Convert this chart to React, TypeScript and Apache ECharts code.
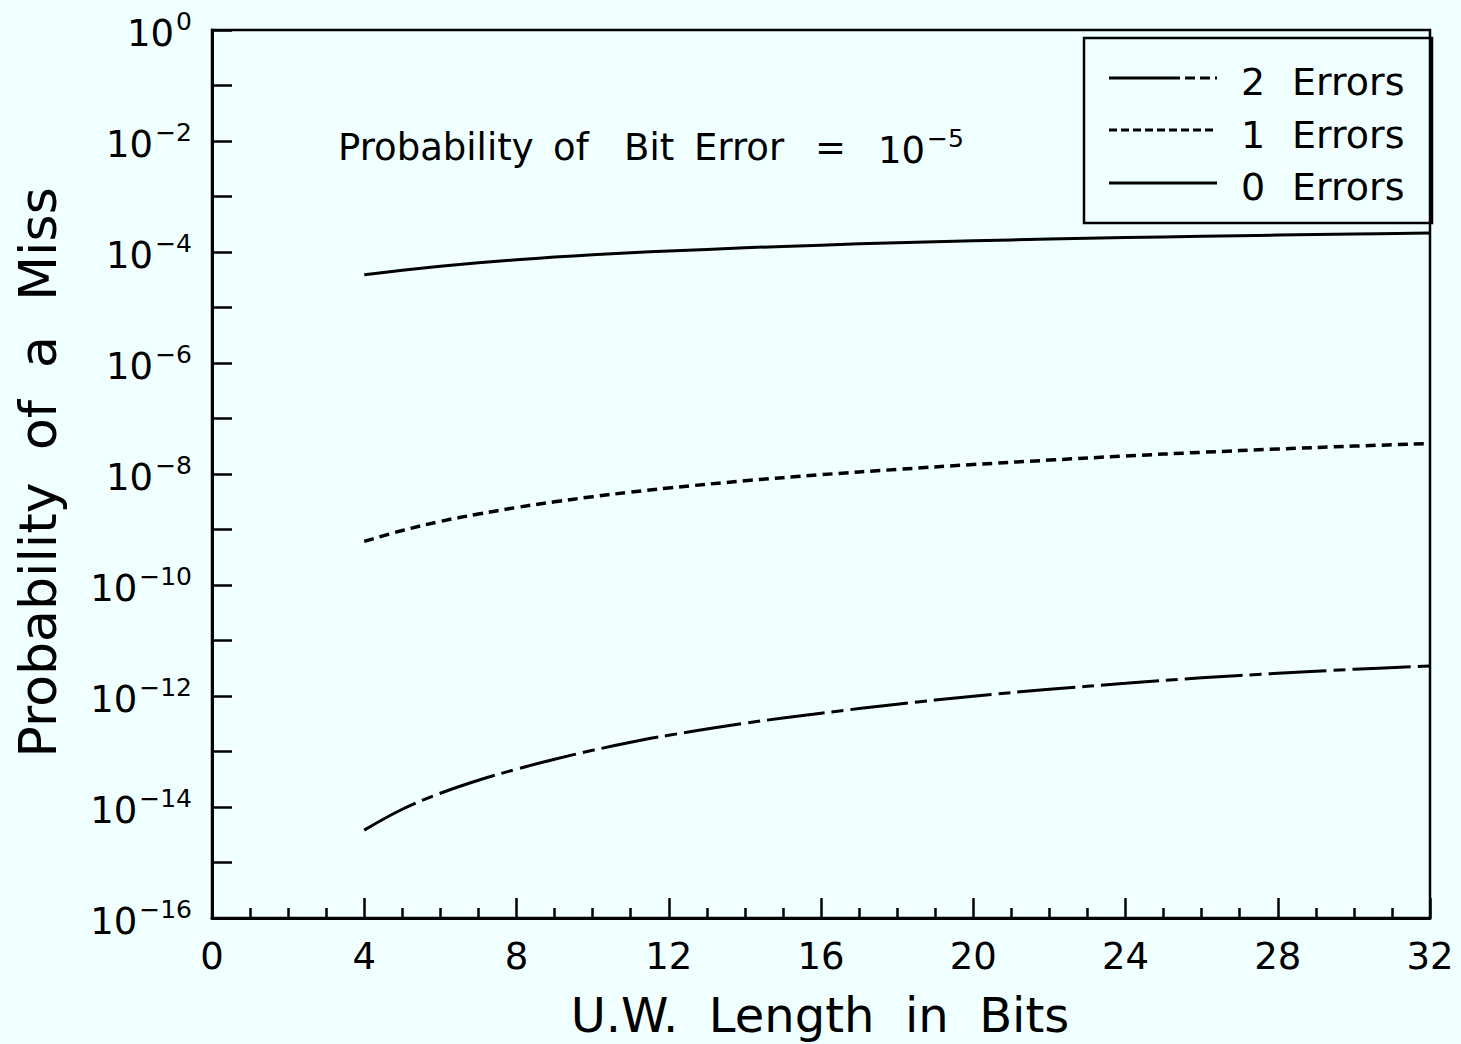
import React, { useEffect, useRef } from "react";
import * as echarts from "echarts";

// Unique-word length (bits) at which the miss probability is plotted
const uwLengthBits = [4, 5, 6, 7, 8, 9, 10, 11, 12, 14, 16, 18, 20, 22, 24, 26, 28, 30, 32];

// Probability of a miss for each number of tolerated errors
const missZeroErrors = [
  3.89e-5, 4.69e-5, 5.54e-5, 6.4e-5, 7.24e-5, 8.1e-5, 8.91e-5, 9.7e-5, 1.04e-4,
  1.19e-4, 1.33e-4, 1.47e-4, 1.59e-4, 1.71e-4, 1.82e-4, 1.92e-4, 2.02e-4, 2.1e-4, 2.19e-4,
];
const missOneError = [
  6.1e-10, 9.6e-10, 1.4e-9, 1.9e-9, 2.49e-9, 3.16e-9, 3.9e-9, 4.72e-9, 5.6e-9,
  7.54e-9, 9.7e-9, 1.21e-8, 1.48e-8, 1.78e-8, 2.11e-8, 2.46e-8, 2.82e-8, 3.18e-8, 3.54e-8,
];
const missTwoErrors = [
  3.83e-15, 9.1e-15, 1.77e-14, 3.04e-14, 4.8e-14, 7.26e-14, 1.05e-13, 1.47e-13, 1.96e-13,
  3.23e-13, 4.89e-13, 7.1e-13, 9.9e-13, 1.32e-12, 1.69e-12, 2.13e-12, 2.56e-12, 3.03e-12, 3.47e-12,
];

const xTicks = [0, 4, 8, 12, 16, 20, 24, 28, 32];
const legendLabels = ["2", "1", "0"];
const legendWord = "Errors";

const FONT = "DejaVu Sans";
const INK = "#000";
const BG = "#f0ffff";

const DASH_TWO = [58, 7, 12, 7];
const DASH_TWO_KEY = [71, 5, 10, 5, 10, 5];
const DASH_ONE = [10, 6];
const DASH_ONE_KEY = [8, 4];

const GRID = { left: 212, top: 30, width: 1218, height: 888 };

function toPairs(ys: number[]) {
  return uwLengthBits.map((x, i) => [x, ys[i]]);
}

function plainText(text: string, x: number, y: number, size: number, extra: any = {}) {
  const { style: extraStyle, ...rest } = extra;
  return {
    type: "text",
    x,
    y,
    ...rest,
    style: {
      text,
      font: `${size}px "${FONT}"`,
      fill: INK,
      textAlign: "left",
      textVerticalAlign: "middle",
      ...(extraStyle || {}),
    },
  };
}

// "10" with a raised exponent, shared by the axis labels and the annotation
function powerRich(colorKey: "color" | "fill") {
  return {
    b: { fontFamily: FONT, fontSize: 37, padding: [6, 0, 0, 0], verticalAlign: "bottom", [colorKey]: INK },
    s: { fontFamily: FONT, fontSize: 25, padding: [0, 0, 0, 2], verticalAlign: "top", [colorKey]: INK },
  };
}

export default function App() {
  const ref = useRef<HTMLDivElement>(null);

  useEffect(() => {
    if (!ref.current) return;
    const chart = echarts.init(ref.current, undefined, { renderer: "svg" });

    const legendRows = [
      { line: 78, text: 82, dash: DASH_TWO_KEY as number[] | undefined },
      { line: 130, text: 134.5, dash: DASH_ONE_KEY as number[] | undefined },
      { line: 183, text: 187, dash: undefined as number[] | undefined },
    ];

    const legendGraphics: any[] = [
      {
        type: "rect",
        shape: { x: 1084, y: 38, width: 348, height: 185 },
        style: { fill: "transparent", stroke: INK, lineWidth: 2.5 },
      },
    ];
    legendRows.forEach((row, i) => {
      legendGraphics.push({
        type: "line",
        shape: { x1: 1109, y1: row.line, x2: 1217, y2: row.line },
        style: { stroke: INK, lineWidth: 3, lineDash: row.dash },
      });
      legendGraphics.push(plainText(legendLabels[i], 1241, row.text, 38));
      legendGraphics.push(plainText(legendWord, 1292, row.text, 38));
    });

    // Annotation words laid out with the wide spacing of the plotter font
    const noteWords: [string, number][] = [
      ["Probability", 338],
      ["of", 553],
      ["Bit", 624],
      ["Error", 694],
      ["=", 815],
    ];
    const noteGraphics: any[] = noteWords.map(([w, x]) => plainText(w, x, 147, 37));
    noteGraphics.push({
      type: "text",
      x: 878,
      y: 147,
      style: {
        text: "{b|10}{s|\u22125}",
        textVerticalAlign: "middle",
        rich: powerRich("fill"),
      },
    });

    // Vertical axis title, reading upward, word by word
    const yTitleWords: [string, number][] = [
      ["Probability", 620],
      ["of", 425],
      ["a", 352],
      ["Miss", 244],
    ];
    const yTitleGraphics = yTitleWords.map(([w, y]) =>
      plainText(w, 38, y, 52, { rotation: Math.PI / 2, style: { textAlign: "center" } })
    );

    const option: any = {
      animation: false,
      backgroundColor: BG,
      grid: {
        ...GRID,
        show: true,
        borderColor: INK,
        borderWidth: 2.5,
        backgroundColor: "transparent",
        containLabel: false,
      },
      xAxis: {
        type: "value",
        min: xTicks[0],
        max: xTicks[xTicks.length - 1],
        interval: 4,
        axisLine: { show: true, onZero: false, lineStyle: { color: INK, width: 3 } },
        axisTick: { show: true, inside: true, length: 20, lineStyle: { color: INK, width: 2.5 } },
        minorTick: { show: true, splitNumber: 4, length: 10, lineStyle: { color: INK, width: 2.5 } },
        splitLine: { show: false },
        minorSplitLine: { show: false },
        axisLabel: {
          margin: 20,
          color: INK,
          fontFamily: FONT,
          fontSize: 37,
        },
      },
      yAxis: {
        type: "log",
        logBase: 10,
        min: 1e-16,
        max: 1,
        interval: 1,
        axisLine: { show: true, onZero: false, lineStyle: { color: INK, width: 3 } },
        axisTick: { show: true, inside: true, length: 20, interval: 0, lineStyle: { color: INK, width: 2.5 } },
        splitLine: { show: false },
        axisLabel: {
          margin: 20,
          color: INK,
          formatter: (v: number) => {
            const e = Math.round(Math.log10(v));
            if (e % 2 !== 0) return "";
            const sup = e === 0 ? "0" : "\u2212" + String(-e);
            return `{b|10}{s|${sup}}`;
          },
          rich: powerRich("color"),
        },
      },
      series: [
        {
          name: "2 Errors",
          type: "line",
          data: toPairs(missTwoErrors),
          showSymbol: false,
          smooth: 0.4,
          lineStyle: { color: INK, width: 3, type: DASH_TWO },
        },
        {
          name: "1 Errors",
          type: "line",
          data: toPairs(missOneError),
          showSymbol: false,
          smooth: 0.4,
          lineStyle: { color: INK, width: 3.5, type: DASH_ONE },
        },
        {
          name: "0 Errors",
          type: "line",
          data: toPairs(missZeroErrors),
          showSymbol: false,
          smooth: 0.4,
          lineStyle: { color: INK, width: 3, type: "solid" },
        },
      ],
      graphic: [
        ...noteGraphics,
        ...yTitleGraphics,
        {
          type: "text",
          x: 820,
          y: 1015,
          style: {
            text: "U.W.  Length  in  Bits",
            font: `48px "${FONT}"`,
            fill: INK,
            textAlign: "center",
            textVerticalAlign: "middle",
          },
        },
        ...legendGraphics,
      ],
    };

    chart.setOption(option);
    return () => chart.dispose();
  }, []);

  return (
    <div
      ref={ref}
      style={{ position: "fixed", left: 0, top: 0, width: 1461, height: 1044 }}
    />
  );
}
